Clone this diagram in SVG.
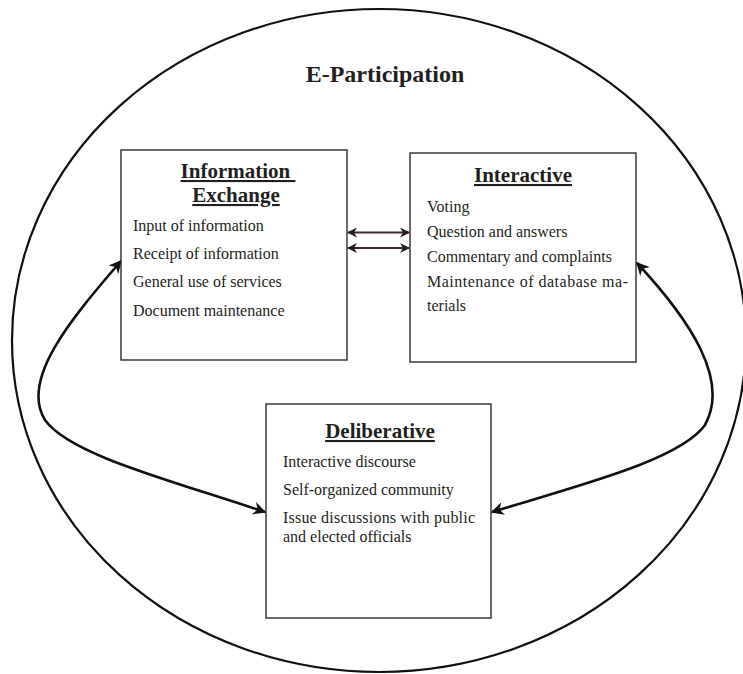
<svg xmlns="http://www.w3.org/2000/svg" width="743" height="674" viewBox="0 0 743 674">
  <style>
    .box { fill: #ffffff; stroke: #2b2b2b; stroke-width: 1.4; }
    .title { font-family: "Liberation Serif", "Times New Roman", serif; font-weight: bold; font-size: 21px; fill: #231f20; text-anchor: middle; text-decoration: underline; }
    .item { font-family: "Liberation Serif", "Times New Roman", serif; font-size: 16px; fill: #231f20; }
    .curve { fill: none; stroke: #111111; stroke-width: 2.6; }
    .link { fill: none; stroke: #3b2a2a; stroke-width: 1.8; }
  </style>
  <defs>
    <marker id="head" viewBox="0 0 10 10" refX="9" refY="5" markerWidth="13" markerHeight="13" markerUnits="userSpaceOnUse" orient="auto-start-reverse">
      <path d="M0,0 L10,5 L0,10 L3,5 z" fill="#111111"/>
    </marker>
    <marker id="headSmall" viewBox="0 0 10 10" refX="9" refY="5" markerWidth="10" markerHeight="10" markerUnits="userSpaceOnUse" orient="auto-start-reverse">
      <path d="M0,0 L10,5 L0,10 L3,5 z" fill="#2b1e1e"/>
    </marker>
  </defs>

  <rect width="743" height="674" fill="#ffffff"/>

  <!-- outer boundary -->
  <g id="e-participation">
    <ellipse cx="379" cy="340.5" rx="367" ry="331.5" fill="none" stroke="#111111" stroke-width="2.2"/>
    <text x="385" y="82" font-family="Liberation Serif, Times New Roman, serif" font-weight="bold" font-size="24" fill="#231f20" text-anchor="middle">E-Participation</text>
  </g>

  <!-- connectors -->
  <g id="connectors">
    <line class="link" x1="348" y1="232.5" x2="409" y2="232.5" marker-start="url(#headSmall)" marker-end="url(#headSmall)"/>
    <line class="link" x1="348" y1="248" x2="409" y2="248" marker-start="url(#headSmall)" marker-end="url(#headSmall)"/>
    <path class="curve" d="M121,261 C70,320 20,380 45,420 C70,455 170,480 265,512" marker-start="url(#head)" marker-end="url(#head)"/>
    <path class="curve" d="M637,263 C690,320 730,380 705,425 C680,460 580,485 492,512" marker-start="url(#head)" marker-end="url(#head)"/>
  </g>

  <g id="information-exchange">
    <rect class="box" x="121" y="150" width="226" height="210"/>
    <text class="title" x="238" y="178">Information&#160;</text>
    <text class="title" x="236" y="202">Exchange</text>
    <text class="item" x="133" y="231">Input of information</text>
    <text class="item" x="133" y="259">Receipt of information</text>
    <text class="item" x="133" y="287">General use of services</text>
    <text class="item" x="133" y="316">Document maintenance</text>
  </g>

  <g id="interactive">
    <rect class="box" x="410" y="153" width="226" height="209"/>
    <text class="title" x="523" y="182">Interactive</text>
    <text class="item" x="427" y="212">Voting</text>
    <text class="item" x="427" y="237">Question and answers</text>
    <text class="item" x="427" y="262">Commentary and complaints</text>
    <text class="item" x="427" y="287" textLength="201" lengthAdjust="spacing">Maintenance of database ma-</text>
    <text class="item" x="427" y="311">terials</text>
  </g>

  <g id="deliberative">
    <rect class="box" x="266" y="404" width="225" height="214"/>
    <text class="title" x="380" y="438">Deliberative</text>
    <text class="item" x="283" y="467">Interactive discourse</text>
    <text class="item" x="283" y="495">Self-organized community</text>
    <text class="item" x="283" y="523" textLength="192" lengthAdjust="spacing">Issue discussions with public</text>
    <text class="item" x="283" y="542">and elected officials</text>
  </g>
</svg>
